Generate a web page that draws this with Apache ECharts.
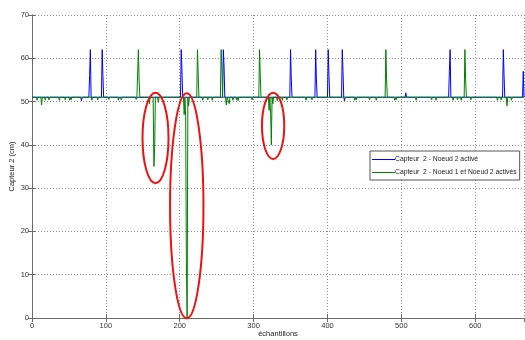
<!DOCTYPE html>
<html>
<head>
<meta charset="utf-8">
<script src="https://cdn.jsdelivr.net/npm/echarts@6/dist/echarts.min.js"></script>
<style>
  html, body { margin: 0; padding: 0; background: #fff; }
  #chart { width: 525px; height: 340px; }
</style>
</head>
<body>
<div id="chart"></div>
<script>
// axis ranges / ticks
const xMax = 666
const yTicks = [0, 10, 20, 30, 40, 50, 60, 70]

const seriesNames = [
  'Capteur  2 - Noeud 2 activé',
  'Capteur  2 - Noeud 1 et Noeud 2 activés'
]
const seriesColors = ['#0000ff', '#008000']

// [échantillon, cm]
const blueData = [
  [0, 51], [66, 51], [67, 50.2], [68, 51],
  [77, 51], [78, 56], [79, 62], [80, 51],
  [94, 51], [95, 62], [96, 56], [97, 51],
  [201, 51], [202, 62], [203, 57], [204, 51],
  [258, 51], [259, 62], [260, 58], [261, 51],
  [349, 51], [350, 62], [351, 55], [352, 51],
  [383, 51], [384, 62], [385, 55], [386, 51],
  [400, 51], [401, 62], [402, 56], [403, 51],
  [419, 51], [420, 62], [421, 57], [422, 51], [423, 50.2], [424, 51],
  [505, 51], [506, 52], [507, 51],
  [564, 51], [565, 57], [566, 62], [567, 51],
  [637, 51], [638, 62], [639, 56], [640, 51],
  [664, 51], [665, 57], [666, 51]
]

const greenData = [
  [0, 51],
  [6, 51], [7, 50.3], [8, 51],
  [12, 51], [13, 49.2], [14, 51],
  [17, 51], [18, 50.3], [19, 51],
  [22, 51], [23, 50.4], [24, 51],
  [36, 51], [37, 50.3], [38, 51],
  [44, 51], [45, 50.4], [46, 51],
  [50, 51], [51, 50.3], [52, 51], [53, 50.4], [54, 51],
  [80, 51], [81, 50.3], [82, 51],
  [88, 51], [89, 50.4], [90, 51],
  [103, 51], [104, 50.5], [105, 51],
  [116, 51], [117, 50.3], [118, 51], [120, 51], [121, 50.4], [122, 51],
  [140, 51], [141, 50.5], [142, 51],
  [143, 51], [144, 62], [145, 55], [146, 51],
  [158, 51], [159, 49.5], [160, 51],
  [164, 51], [165, 35], [166, 39], [167, 51],
  [170, 51], [171, 49.8], [172, 51],
  [205, 51], [206, 47], [207, 51], [208, 46.5], [209, 12.7], [210, 0], [211, 51], [212, 49], [213, 51],
  [223, 51], [224, 62], [225, 56], [226, 51],
  [230, 51], [231, 50.3], [232, 51],
  [237, 51], [238, 50.4], [239, 51],
  [243, 51], [244, 50.3], [245, 51],
  [255, 51], [256, 62], [257, 58], [258, 51],
  [262, 51], [263, 49.2], [264, 51],
  [266, 51], [267, 49.5], [268, 51],
  [271, 51], [272, 50.3], [273, 51],
  [276, 51], [277, 50.4], [278, 51], [279, 50.2], [280, 51],
  [297, 51], [298, 50.4], [299, 51],
  [307, 51], [308, 62], [309, 56], [310, 51],
  [320, 51], [321, 48], [322, 51], [323, 47], [324, 40], [325, 51], [326, 49.5], [327, 51],
  [331, 51], [332, 50.2], [333, 51],
  [338, 51], [339, 50.3], [340, 51],
  [344, 51], [345, 50.4], [346, 51],
  [370, 51], [371, 50.3], [372, 51],
  [378, 51], [379, 50.4], [380, 51],
  [436, 51], [437, 50.3], [438, 51], [439, 50.4], [440, 51],
  [456, 51], [457, 50.4], [458, 51],
  [465, 51], [466, 50.3], [467, 51],
  [478, 51], [479, 62], [480, 55], [481, 51],
  [490, 51], [491, 50.3], [492, 51], [493, 50.4], [494, 51],
  [519, 51], [520, 50.3], [521, 51],
  [540, 51], [541, 50.4], [542, 51],
  [546, 51], [547, 50.3], [548, 51],
  [569, 51], [570, 50.3], [571, 51],
  [575, 51], [576, 50.4], [577, 51],
  [580, 51], [581, 50.3], [582, 51],
  [585, 51], [586, 62], [587, 55], [588, 51],
  [593, 51], [594, 50.4], [595, 51],
  [629, 51], [630, 50.3], [631, 51],
  [634, 51], [635, 50.4], [636, 51],
  [642, 51], [643, 49], [644, 51],
  [648, 51], [649, 50.3], [650, 51],
  [666, 51]
]

// red annotation ellipses: [centre x, centre y, radius x, radius y] in data units
const ellipses = [
  [167.2, 41.6, 17.6, 10.45],
  [209.5, 25.9, 22.6, 26.0],
  [326.4, 44.4, 15.1, 7.65]
]

const font = '"Liberation Sans", Arial, sans-serif'
const axisColor = '#6a6a6a'
const gridLine = { show: true, lineStyle: { color: '#8c8c8c', type: [1, 2], width: 1 } }

const chart = echarts.init(document.getElementById('chart'), null, { renderer: 'canvas' })

const option = {
  animation: false,
  backgroundColor: '#fff',
  grid: { left: 32, right: 1, top: 15, bottom: 22, outerBoundsMode: 'none', containLabel: false },
  legend: {
    orient: 'vertical',
    left: 370,
    top: 151,
    padding: [5, 3, 4, 2],
    itemGap: 6,
    itemWidth: 23,
    itemHeight: 1,
    icon: 'rect',
    backgroundColor: '#fff',
    borderColor: '#555',
    borderWidth: 1,
    borderRadius: 0,
    data: seriesNames.map((name, i) => ({
      name,
      itemStyle: { color: seriesColors[i] }
    })),
    textStyle: { fontFamily: font, fontSize: 6.8, color: '#222', padding: [0, 0, 0, -5] }
  },
  xAxis: [{
    type: 'value',
    min: 0,
    max: xMax,
    interval: 100,
    name: 'échantillons',
    nameLocation: 'middle',
    nameGap: 12,
    nameMoveOverlap: false,
    nameTextStyle: { fontFamily: font, fontSize: 7.5, color: '#222' },
    axisLine: { show: true, lineStyle: { color: axisColor } },
    axisTick: { show: true, inside: true, length: 4, lineStyle: { color: axisColor } },
    axisLabel: { fontFamily: font, fontSize: 7.5, color: '#333', margin: 4, showMaxLabel: false },
    splitLine: gridLine
  }, {
    type: 'value',
    position: 'top',
    min: 0,
    max: xMax,
    interval: 100,
    axisLine: { show: true, lineStyle: { color: axisColor } },
    axisTick: { show: true, inside: true, length: 4, lineStyle: { color: axisColor } },
    axisLabel: { show: false },
    splitLine: { show: false }
  }],
  yAxis: [{
    type: 'value',
    min: yTicks[0],
    max: yTicks[yTicks.length - 1],
    interval: 10,
    name: 'Capteur 2 (cm)',
    nameLocation: 'middle',
    nameGap: 16,
    nameMoveOverlap: false,
    nameTextStyle: { fontFamily: font, fontSize: 7.5, color: '#222' },
    axisLine: { show: true, lineStyle: { color: axisColor } },
    axisTick: { show: true, inside: true, length: 4, lineStyle: { color: axisColor } },
    axisLabel: { fontFamily: font, fontSize: 7.5, color: '#333', margin: 3 },
    splitLine: gridLine
  }, {
    type: 'value',
    position: 'right',
    min: yTicks[0],
    max: yTicks[yTicks.length - 1],
    interval: 10,
    axisLine: { show: true, lineStyle: { color: axisColor } },
    axisTick: { show: true, inside: true, length: 4, lineStyle: { color: axisColor } },
    axisLabel: { show: false },
    splitLine: { show: false }
  }],
  series: [{
    name: seriesNames[0],
    type: 'line',
    data: blueData,
    symbol: 'none',
    lineStyle: { color: seriesColors[0], width: 1 },
    itemStyle: { color: seriesColors[0] },
    z: 2
  }, {
    name: seriesNames[1],
    type: 'line',
    data: greenData,
    symbol: 'none',
    lineStyle: { color: seriesColors[1], width: 1 },
    itemStyle: { color: seriesColors[1] },
    z: 3
  }, {
    name: 'annotations',
    type: 'custom',
    data: ellipses,
    clip: false,
    z: 5,
    silent: true,
    renderItem: function (params, api) {
      const c = api.coord([api.value(0), api.value(1)])
      const s = api.size([api.value(2), api.value(3)])
      return {
        type: 'ellipse',
        shape: { cx: c[0], cy: c[1], rx: s[0], ry: s[1] },
        style: { fill: 'none', stroke: '#ee1111', lineWidth: 2 }
      }
    }
  }]
}

chart.setOption(option)
</script>
</body>
</html>
